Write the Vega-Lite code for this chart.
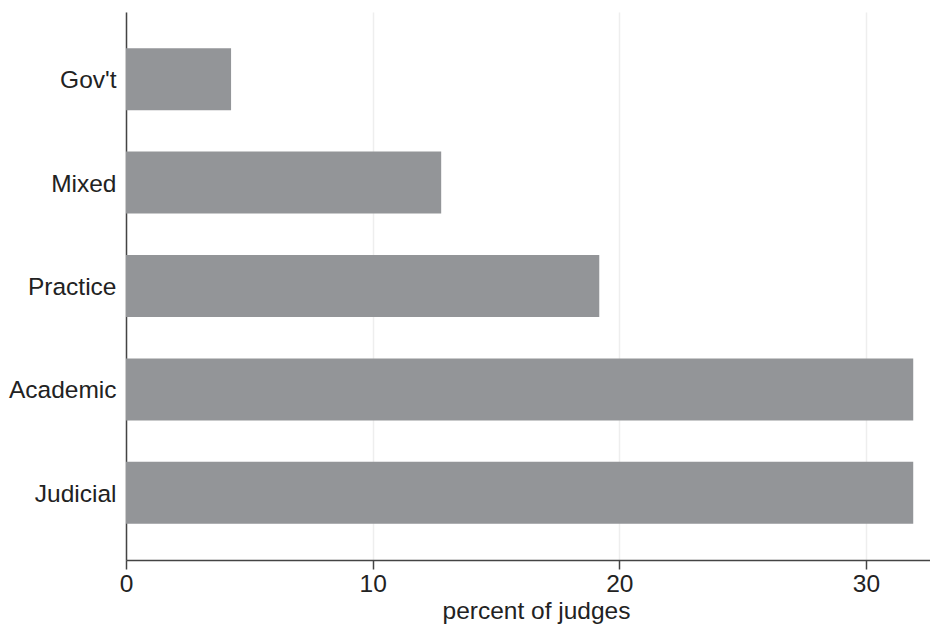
{
  "$schema": "https://vega.github.io/schema/vega-lite/v6.json",
  "autosize": "none",
  "width": 804,
  "height": 548,
  "padding": {"left": 126, "top": 12, "right": 0, "bottom": 64},
  "background": "white",
  "data": {"values": [
    {"category": "Gov't", "percent": 4.26},
    {"category": "Mixed", "percent": 12.78},
    {"category": "Practice", "percent": 19.19},
    {"category": "Academic", "percent": 31.92},
    {"category": "Judicial", "percent": 31.92}
  ]},
  "mark": {"type": "bar", "color": "#939598"},
  "encoding": {
    "y": {
      "field": "category", "type": "nominal",
      "sort": ["Gov't", "Mixed", "Practice", "Academic", "Judicial"],
      "scale": {"paddingInner": 0.4, "paddingOuter": 0.35},
      "axis": {
        "title": null, "ticks": false, "grid": false,
        "domainColor": "#444444", "domainWidth": 1.5,
        "labelFont": "Liberation Sans", "labelFontSize": 24.5, "labelColor": "#222222",
        "labelPadding": 10, "labelOffset": 2
      }
    },
    "x": {
      "field": "percent", "type": "quantitative",
      "scale": {"domain": [0, 32.6], "nice": false, "zero": true},
      "axis": {
        "title": "percent of judges",
        "values": [0, 10, 20, 30],
        "format": "d",
        "grid": true, "gridColor": "#eeeeee", "gridWidth": 1.5,
        "domainColor": "#444444", "domainWidth": 1.5,
        "tickColor": "#444444", "tickWidth": 1.5, "tickSize": 9,
        "labelFont": "Liberation Sans", "labelFontSize": 24.5, "labelColor": "#222222",
        "labelPadding": 3, "labelFlush": false,
        "titleFont": "Liberation Sans", "titleFontSize": 24.5, "titleFontWeight": "normal",
        "titleColor": "#222222", "titlePadding": 4, "titleX": 410
      }
    }
  },
  "config": {"view": {"stroke": null}}
}
